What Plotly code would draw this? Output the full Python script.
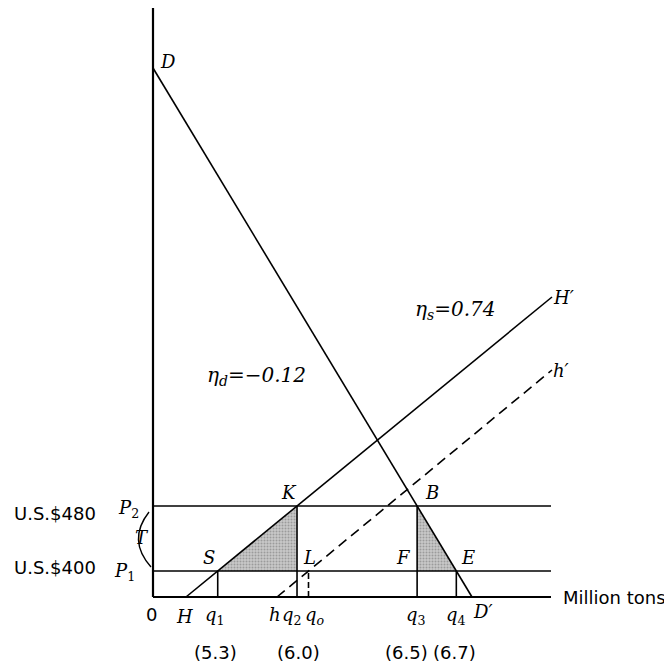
import plotly.graph_objects as go

# ---- values (schematic diagram units) ----
price_heights = [2.6, 9.1]                 # P1, P2
price_labels = ["U.S.$400", "U.S.$480"]
price_symbols = ["<i>P</i><sub>1</sub>", "<i>P</i><sub>2</sub>"]
demand_x = [0.0, 31.9]                     # D -> D'
demand_y = [52.9, 0.0]
supply_x = [3.3, 39.9]                     # H -> H'
supply_y = [0.0, 30.0]
supply2_x = [12.4, 39.9]                   # h -> h'
supply2_y = [0.0, 22.7]
axis_x_max = 39.8
axis_y_max = 58.9
quantity_values = ["(5.3)", "(6.0)", "(6.5)", "(6.7)"]
elasticity_demand = "−0.12"
elasticity_supply = "0.74"
x_axis_title = "Million tons"


def x_at(xs, ys, y):
    return xs[0] + (y - ys[0]) * (xs[1] - xs[0]) / (ys[1] - ys[0])


P1, P2 = price_heights
xS = x_at(supply_x, supply_y, P1)
xK = x_at(supply_x, supply_y, P2)
xB = x_at(demand_x, demand_y, P2)
xE = x_at(demand_x, demand_y, P1)
xO = x_at(supply2_x, supply2_y, P1)

# window pixel -> data helper for label placement (layout only)
def px(x, y):
    return (x - 153) / 10.0, (597 - y) / 10.0

BLACK = "black"
fig = go.Figure()

def line(xs, ys, width=1.6, dash=None):
    fig.add_trace(go.Scatter(x=xs, y=ys, mode="lines",
                             line=dict(color=BLACK, width=width, dash=dash),
                             hoverinfo="skip", showlegend=False, cliponaxis=False))

# shaded (stippled) triangles
for tx, ty in (([xS, xK, xK, xS], [P1, P2, P1, P1]),
               ([xB, xB, xE, xB], [P2, P1, P1, P2])):
    fig.add_trace(go.Scatter(x=tx, y=ty, mode="lines", fill="toself",
                             fillcolor="rgb(190,190,190)",
                             fillpattern=dict(shape=".", bgcolor="rgb(200,200,200)",
                                              fgcolor="rgb(110,110,110)", size=3,
                                              solidity=0.35),
                             line=dict(width=0),
                             hoverinfo="skip", showlegend=False))

# axes
line([0, 0], [0, axis_y_max], width=2.2)
line([0, axis_x_max], [0, 0], width=2.0)
# price lines
for p in price_heights:
    line([0, axis_x_max], [p, p], width=1.6)
# demand, supply lines
line(demand_x, demand_y, width=1.6)
line(supply_x, supply_y, width=1.6)
line(supply2_x, supply2_y, width=1.6, dash="10px,6px")
# verticals
line([xS, xS], [0, P1])
line([xK, xK], [0, P2])
line([xB, xB], [0, P2])
line([xE, xE], [0, P1])
line([xO, xO], [0, P1], dash="6px,3px")

SERIF = "DejaVu Serif"
SANS = "DejaVu Sans"
ann = []

def text(t, x, y, size=18, font=SERIF, xanchor="center"):
    dx, dy = px(x, y)
    ann.append(dict(x=dx, y=dy, text=t, showarrow=False, xanchor=xanchor,
                    yanchor="middle", font=dict(family=font, size=size, color=BLACK)))

text("<i>D</i>", 168, 61)
text("<i>η<sub>d</sub>=−" + elasticity_demand[1:] + "</i>", 256, 376, size=20)
text("<i>η<sub>s</sub>=" + elasticity_supply + "</i>", 455, 310, size=20)
text("<i>H′</i>", 563, 297)
text("<i>h′</i>", 561, 370)
text("<i>K</i>", 289, 492)
text("<i>B</i>", 432, 492)
text("<i>S</i>", 209, 557)
text("<i>L</i>", 309, 557)
text("<i>F</i>", 403, 557)
text("<i>E</i>", 468, 557)
text("<i>T</i>", 142, 537)
text(price_symbols[1], 128, 509)
text(price_symbols[0], 124, 572)
text(price_labels[1], 55, 513, font=SANS)
text(price_labels[0], 55, 567, font=SANS)
text("0", 151, 614, font=SANS)
text("<i>H</i>", 184, 616)
text("<i>q</i><sub>1</sub>", 215, 616)
text("<i>h</i>", 275, 614)
text("<i>q</i><sub>2</sub>", 292, 616)
text("<i>q</i><sub><i>o</i></sub>", 315, 616)
text("<i>q</i><sub>3</sub>", 416, 616)
text("<i>q</i><sub>4</sub>", 456, 616)
text("<i>D′</i>", 483, 611)
text(x_axis_title, 561, 597, font=SANS, xanchor="left")
for lbl, cx in zip(quantity_values, [215, 298, 406, 454]):
    text(lbl, cx, 652, font=SANS)

# bracket arc for T
a0 = px(149, 512)
ac = px(127, 540)
a1 = px(151, 567)
shapes = [dict(type="path", xref="x", yref="y",
               path=f"M {a0[0]},{a0[1]} Q {ac[0]},{ac[1]} {a1[0]},{a1[1]}",
               line=dict(color=BLACK, width=1.4))]

# the page adds an 8 px body margin, so the figure is drawn 8 px in from the corner
fig.update_layout(
    width=664, height=656,
    margin=dict(l=0, r=0, t=0, b=0),
    paper_bgcolor="white", plot_bgcolor="white",
    xaxis=dict(range=[px(8, 0)[0], px(672, 0)[0]], visible=False, fixedrange=True),
    yaxis=dict(range=[px(0, 664)[1], px(0, 8)[1]], visible=False, fixedrange=True),
    annotations=ann, shapes=shapes, showlegend=False,
)

fig.write_html("out.html")
